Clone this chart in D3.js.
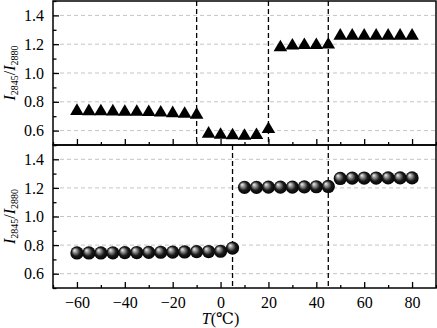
<!DOCTYPE html>
<html><head><meta charset="utf-8">
<script src="https://cdn.jsdelivr.net/npm/d3@7"></script>
<style>body{margin:0;background:#fff}svg{display:block}text{font-family:"Liberation Serif","DejaVu Serif",serif}</style>
</head><body><svg id="c" width="437" height="328"></svg>
<script>
const temps = [-60,-55,-50,-45,-40,-35,-30,-25,-20,-15,-10,-5,0,5,10,15,20,25,30,35,40,45,50,55,60,65,70,75,80];
const topRatio = [0.748,0.746,0.745,0.744,0.742,0.742,0.740,0.736,0.732,0.728,0.722,0.590,0.582,0.578,0.575,0.580,0.622,1.190,1.202,1.205,1.205,1.209,1.270,1.270,1.270,1.270,1.270,1.270,1.270];
const bottomRatio = [0.745,0.745,0.745,0.746,0.747,0.748,0.749,0.750,0.751,0.752,0.754,0.755,0.757,0.779,1.204,1.204,1.205,1.205,1.206,1.207,1.208,1.210,1.266,1.268,1.269,1.269,1.270,1.270,1.270];
const topTransitions = [-10, 20, 45];
const bottomTransitions = [5, 45];
const yTicks = [0.6, 0.8, 1.0, 1.2, 1.4];
const yMinor = [0.5,0.7,0.9,1.1,1.3,1.5];
const xTicks = [-60,-40,-20,0,20,40,60,80];
const xMinor = [-70,-50,-30,-10,10,30,50,70,90];

const svg = d3.select('#c');
const L = 53, R = 436;
const x = d3.scaleLinear().domain([-70, 90]).range([L, R]);
const font = '"Liberation Serif","DejaVu Serif",serif';

const defs = svg.append('defs');
const g = defs.append('radialGradient').attr('id','ball').attr('cx','50%').attr('cy','50%').attr('r','55%').attr('fx','30%').attr('fy','28%');
g.append('stop').attr('offset','0%').attr('stop-color','#f4f4f4');
g.append('stop').attr('offset','30%').attr('stop-color','#888');
g.append('stop').attr('offset','60%').attr('stop-color','#1a1a1a');
g.append('stop').attr('offset','100%').attr('stop-color','#000');

function panel(top, bottom, values, trans, kind, showXLabels) {
  const y = d3.scaleLinear().domain([0.5, 1.5]).range([bottom, top]);
  const p = svg.append('g');
  p.selectAll('line.grid').data(yTicks).enter().append('line')
    .attr('x1', L).attr('x2', R).attr('y1', d => y(d)).attr('y2', d => y(d))
    .attr('stroke', '#c4c4c4').attr('stroke-width', 1).attr('stroke-dasharray', '4,3');
  const ya = d3.axisLeft(y).tickValues(yTicks).tickFormat(d3.format('.1f')).tickSizeInner(-6).tickSizeOuter(0).tickPadding(9);
  const yg = p.append('g').attr('transform', `translate(${L},0)`).call(ya);
  yg.attr('font-family', font);
  yg.select('.domain').remove();
  yg.selectAll('.tick line').attr('stroke', '#000').attr('stroke-width', 1.3);
  yg.selectAll('text').style('font-family', font).attr('font-size', 16).attr('fill', '#000');
  const ym = d3.axisLeft(y).tickValues(yMinor).tickFormat('').tickSizeInner(-3.5).tickSizeOuter(0);
  const ymg = p.append('g').attr('transform', `translate(${L},0)`).call(ym);
  ymg.select('.domain').remove();
  ymg.selectAll('.tick line').attr('stroke', '#000').attr('stroke-width', 1.3);
  const xa = d3.axisBottom(x).tickValues(xTicks).tickSizeInner(-6).tickSizeOuter(0).tickPadding(9)
    .tickFormat(showXLabels ? (d => d < 0 ? '\u2212' + Math.abs(d) : d) : '');
  const xg = p.append('g').attr('transform', `translate(0,${bottom})`).call(xa);
  xg.attr('font-family', font);
  xg.select('.domain').remove();
  xg.selectAll('.tick line').attr('stroke', '#000').attr('stroke-width', 1.3);
  xg.selectAll('text').style('font-family', font).attr('font-size', 16).attr('fill', '#000');
  const xm = d3.axisBottom(x).tickValues(xMinor).tickFormat('').tickSizeInner(-3).tickSizeOuter(0);
  const xmg = p.append('g').attr('transform', `translate(0,${bottom})`).call(xm);
  xmg.select('.domain').remove();
  xmg.selectAll('.tick line').attr('stroke', '#000').attr('stroke-width', 1.3);
  p.selectAll('line.tr').data(trans).enter().append('line')
    .attr('x1', d => x(d)).attr('x2', d => x(d)).attr('y1', top).attr('y2', bottom)
    .attr('stroke', '#000').attr('stroke-width', 1.3).attr('stroke-dasharray', '5,3');
  const pts = temps.map((t, i) => [t, values[i]]);
  if (kind === 'tri') {
    p.selectAll('path.m').data(pts).enter().append('path')
      .attr('d', 'M0,-6L6.8,5.6L-6.8,5.6Z')
      .attr('transform', d => `translate(${x(d[0])},${y(d[1])})`)
      .attr('fill', '#000');
  } else {
    p.selectAll('circle.m').data(pts).enter().append('circle')
      .attr('cx', d => x(d[0])).attr('cy', d => y(d[1])).attr('r', 6.6)
      .attr('fill', 'url(#ball)');
  }
  p.append('rect').attr('x', L).attr('y', top).attr('width', R - L).attr('height', bottom - top)
    .attr('fill', 'none').attr('stroke', '#000').attr('stroke-width', 1.5);
  const cy = (top + bottom) / 2;
  const t = p.append('text').attr('transform', `translate(15,${cy}) rotate(-90)`)
    .attr('text-anchor', 'middle').style('font-family', font).attr('font-size', 16).attr('fill', '#000');
  t.append('tspan').attr('font-style', 'italic').text('I');
  t.append('tspan').attr('font-size', 10).attr('dy', 3).text('2845');
  t.append('tspan').attr('dy', -3).text('/');
  t.append('tspan').attr('font-style', 'italic').text('I');
  t.append('tspan').attr('font-size', 10).attr('dy', 3).text('2880');
}

panel(1, 145, topRatio, topTransitions, 'tri', false);
panel(145, 288, bottomRatio, bottomTransitions, 'ball', true);

const xl = svg.append('text').attr('x', x(0)).attr('y', 324).attr('text-anchor', 'middle')
  .style('font-family', font).attr('font-size', 16).attr('fill', '#000');
xl.append('tspan').attr('font-style', 'italic').text('T');
xl.append('tspan').text('(\u2103)');
</script></body></html>
